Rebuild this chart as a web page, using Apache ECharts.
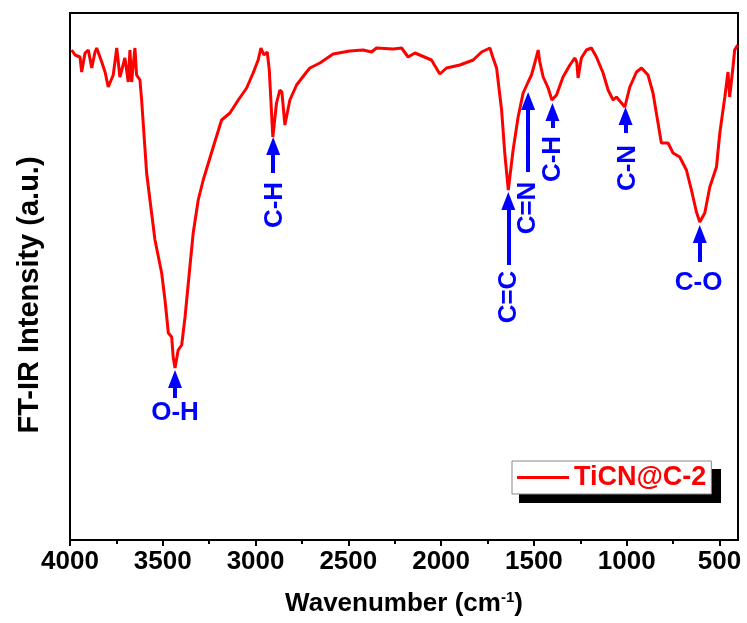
<!DOCTYPE html>
<html>
<head>
<meta charset="utf-8">
<script src="https://cdn.jsdelivr.net/npm/echarts@6/dist/echarts.min.js"></script>
<style>html,body{margin:0;padding:0;background:#fff}#c{width:747px;height:623px}</style>
</head>
<body>
<div id="c"></div>
<script>
var wavenumber = [3991,3973,3946,3937,3919,3901,3883,3865,3856,3829,3811,3794,3767,3748,3731,3704,3686,3677,3668,3650,3641,3623,3614,3587,3569,3542,3506,3488,3470,3452,3444,3434,3417,3398,3380,3354,3336,3309,3282,3228,3183,3138,3093,3048,3013,2986,2971,2955,2937,2926,2907,2887,2869,2858,2842,2815,2779,2725,2707,2653,2582,2492,2420,2375,2348,2258,2213,2178,2141,2052,2007,1971,1899,1827,1782,1737,1720,1701,1674,1657,1638,1612,1585,1558,1531,1513,1495,1477,1468,1450,1423,1403,1378,1343,1306,1280,1269,1262,1244,1217,1190,1163,1127,1100,1073,1055,1010,983,947,920,885,858,831,813,777,750,714,678,651,624,606,579,552,516,498,471,454,445,427,418,409,402];
var intensity = [490,485,483,468,487,490,472,488,492,478,468,453,465,492,463,482,458,490,458,492,465,460,440,367,340,300,267,240,207,203,183,172,190,195,223,273,307,340,360,393,420,427,440,452,467,480,492,485,488,470,403,437,450,448,415,440,455,468,472,477,486,489,490,488,492,491,492,483,487,480,466,472,475,480,488,492,482,472,430,387,350,390,423,447,458,465,477,490,478,463,452,440,445,463,475,482,478,462,482,490,492,483,467,450,440,443,433,453,468,472,465,447,417,397,397,387,383,370,350,328,318,327,353,373,407,443,468,443,473,490,492,495];
var seriesName = 'TiCN@C-2';
var majorTicks = [4000,3500,3000,2500,2000,1500,1000,500];
var minorTicks = [3750,3250,2750,2250,1750,1250,750];

// band annotations: label, arrow position (cm-1), arrow tail, arrow tip, label centre, label rotation
var bandNames   = ['O-H','C-H','C=C','C=N','C-H','C-N','C-O'];
var bandX       = [3434,2905,1638,1531,1400,1006,606];
var arrowTail   = [142,367,275,368,412,407,278];
var arrowTip    = [170,403,348,448,437,433,315];
var labelX      = [3434,2896,1635,1533,1398,994,612];
var labelY      = [127,335,243,332,381,372,257];
var labelRotate = [0,90,90,90,90,90,0];

var FONT = "'Liberation Sans', Arial, sans-serif";
var BLUE = '#0000ff';
var RED = '#ff0000';

var curve = wavenumber.map(function(w,i){return [w, intensity[i]];});
var HEAD = 9;
var arrows = bandX.map(function(x,i){
  return [{coord:[x, arrowTail[i]]},{coord:[x, arrowTip[i]-HEAD]}];
});
var labels = bandNames.map(function(n,i){
  return {name:n, value:[labelX[i], labelY[i]], label:{rotate:labelRotate[i]}};
});

var chart = echarts.init(document.getElementById('c'), null, {renderer:'canvas'});
chart.setOption({
  animation:false,
  backgroundColor:'#fff',
  grid:{left:70,right:9,top:13,bottom:83,show:true,borderColor:'#000',borderWidth:2,backgroundColor:'transparent'},
  xAxis:[{
    type:'value', min:400, max:4000, inverse:true,
    axisLine:{show:true,onZero:false,lineStyle:{color:'#000',width:2}},
    axisTick:{show:true,inside:false,length:6,lineStyle:{color:'#000',width:2},customValues:majorTicks},
    axisLabel:{show:true,customValues:majorTicks,formatter:function(v){return String(v);},color:'#000',fontFamily:FONT,fontWeight:'bold',fontSize:26,margin:9},
    splitLine:{show:false},
    name:'Wavenumber (cm{sup|-1})', nameLocation:'middle', nameGap:50,
    nameTextStyle:{color:'#000',fontFamily:FONT,fontWeight:'bold',fontSize:26,
      rich:{sup:{fontSize:15,fontFamily:FONT,fontWeight:'bold',color:'#000',verticalAlign:'top',padding:[0,0,12,0]}}}
  },{
    type:'value', min:400, max:4000, inverse:true, position:'bottom',
    axisLine:{show:false},
    axisTick:{show:true,inside:false,length:4,lineStyle:{color:'#000',width:2},customValues:minorTicks},
    axisLabel:{show:false}, splitLine:{show:false}
  }],
  yAxis:{type:'value',min:0,max:527,
    axisLine:{show:true,lineStyle:{color:'#000',width:2}},
    axisTick:{show:false},axisLabel:{show:false},splitLine:{show:false}},
  legend:{
    data:[seriesName], left:512, top:461, padding:[3,5,3,5],
    icon:'rect', itemWidth:52, itemHeight:3, itemGap:5,
    backgroundColor:'#fff', borderColor:'#888', borderWidth:1,
    textStyle:{color:RED,fontFamily:FONT,fontWeight:'bold',fontSize:27}
  },
  graphic:[
    {type:'rect', left:519, top:469, shape:{width:202,height:34}, style:{fill:'#000'}, z:-1, silent:true},
    {type:'text', x:30, y:295, rotation:Math.PI/2, silent:true,
     style:{text:'FT-IR Intensity (a.u.)', fill:'#000', font:"bold 29px 'Liberation Sans', Arial, sans-serif", textAlign:'center', textVerticalAlign:'middle'}}
  ],
  series:[{
    name:seriesName, type:'line', data:curve, showSymbol:false, symbol:'none',
    lineStyle:{color:RED,width:3}, itemStyle:{color:RED}, z:3,
    markLine:{silent:true, symbol:['none','triangle'], symbolSize:[14,18], precision:0,
      label:{show:false}, lineStyle:{color:BLUE,width:4,type:'solid',opacity:1}, itemStyle:{color:BLUE,opacity:1}, emphasis:{disabled:true},
      data:arrows}
  },{
    name:'bands', type:'scatter', data:labels, symbolSize:0, silent:true, z:4,
    itemStyle:{opacity:1,color:BLUE},
    label:{show:true, position:'inside', formatter:'{b}', color:BLUE, opacity:1, fontFamily:FONT, fontWeight:'bold', fontSize:26}
  }]
});
</script>
</body>
</html>
